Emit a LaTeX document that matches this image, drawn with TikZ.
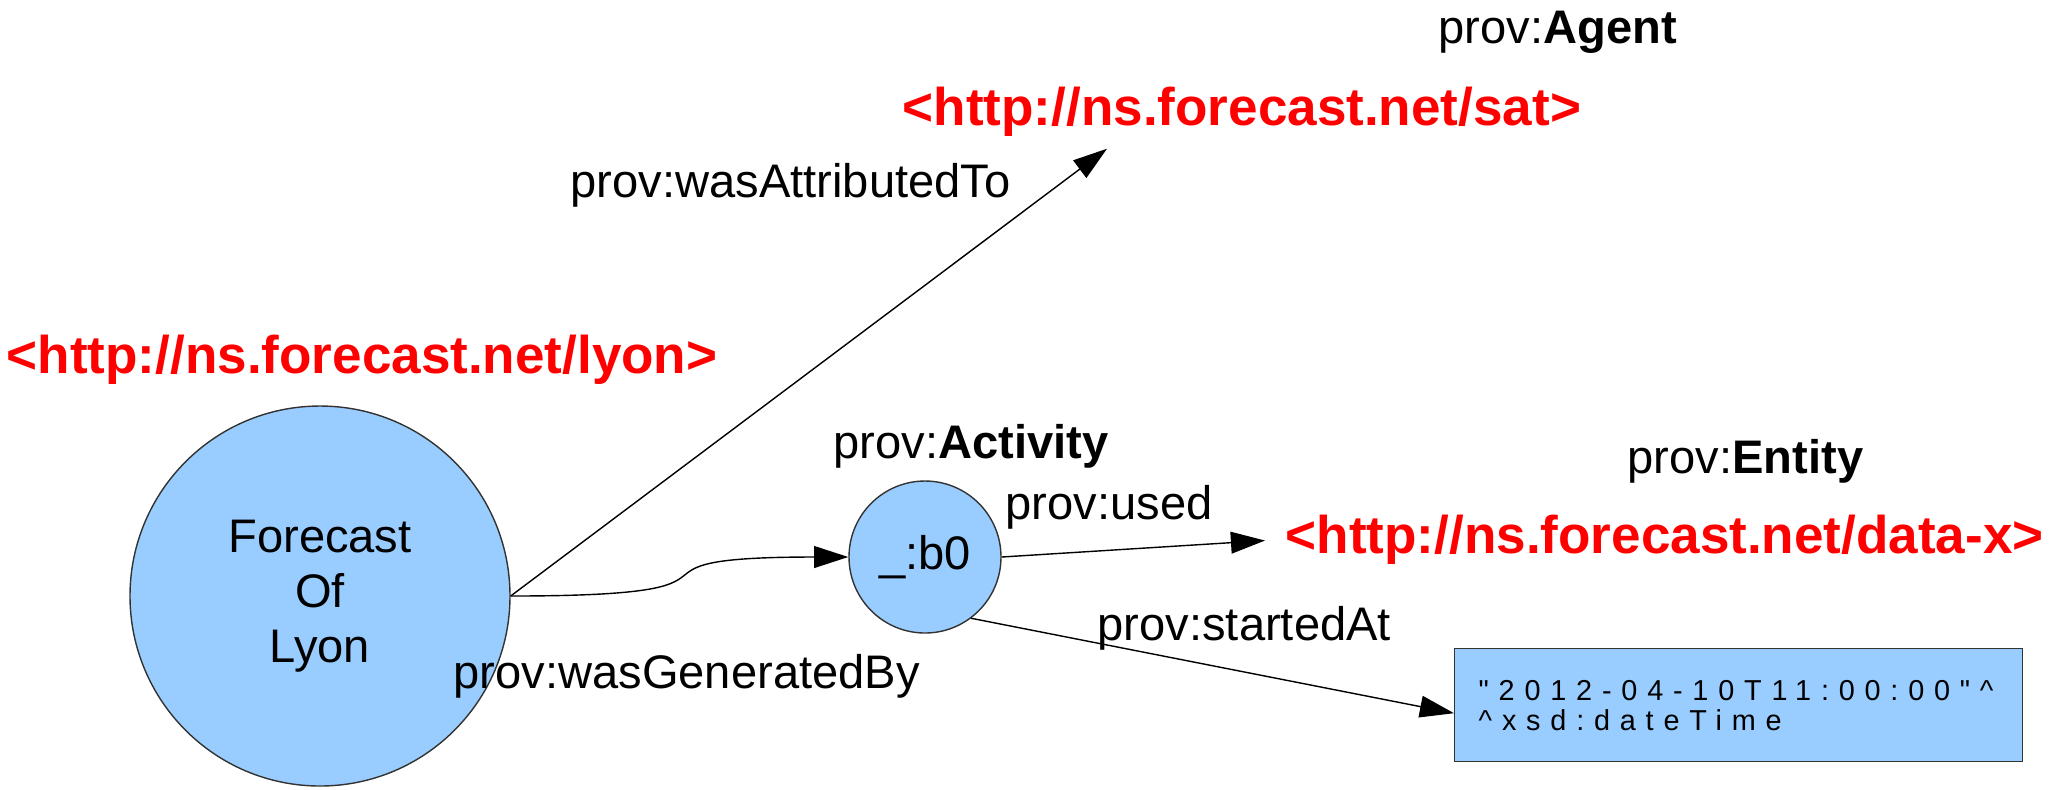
\documentclass[tikz,border=0pt]{standalone}
\usepackage{fontspec}
\setmainfont{Liberation Sans}
\newfontfamily\spacedfont[LetterSpace=34]{Liberation Sans}
\usetikzlibrary{arrows.meta,calc}
\definecolor{nodeblue}{HTML}{99CCFF}
\definecolor{urired}{HTML}{FF0000}
\begin{document}
\begin{tikzpicture}[x=0.1mm,y=-0.1mm,line width=0.4pt,
		lbl/.style={anchor=base west,inner sep=0pt,font=\fontsize{13.4}{15.6}\selectfont},
		uri/.style={anchor=base west,inner sep=0pt,text=urired,font=\fontsize{15.1}{18}\selectfont\bfseries},
		res/.style={circle,draw=black!80,fill=nodeblue,inner sep=0pt,align=center,font=\fontsize{13.4}{15.6}\selectfont},
		arr/.style={-{Triangle[length=9.7pt,width=6.2pt]}}]
			\useasboundingbox (0,0) rectangle (2067,789);
			\node[res,minimum size=38mm] (lyon) at (320,596) {Forecast\\Of\\Lyon};
			\node[res,minimum size=15.2mm] (b0) at (925,557) {\_:b0};
			\node[draw=black!80,fill=nodeblue,anchor=north west,minimum width=56.8mm,minimum height=11.3mm,text width=52mm,inner xsep=2.4mm,align=left,font=\spacedfont\fontsize{8.2}{8.5}\selectfont] (date) at (1454,648) {"2012-04-10T11:00:00"\textasciicircum\\\textasciicircum xsd:dateTime};
			\node[uri] (lyonuri) at (6,373) {<http://ns.forecast.net/lyon>};
			\node[uri] (sat) at (902,125) {<http://ns.forecast.net/sat>};
			\node[uri] (data) at (1285,553) {<http://ns.forecast.net/data-x>};
			\node[lbl] (agent) at (1438,43) {prov:\textbf{Agent}};
			\node[lbl] (activity) at (833,458) {prov:\textbf{Activity}};
			\node[lbl] (entity) at (1627,473) {prov:\textbf{Entity}};
			\node[lbl] (attributed) at (570,197) {prov:wasAttributedTo};
			\node[lbl] (used) at (1005,519) {prov:used};
			\node[lbl] (started) at (1097,640) {prov:startedAt};
			\node[lbl] (generated) at (453,688) {prov:wasGeneratedBy};
			\draw[arr] (lyon.east) -- ($(sat.south west)+(205,12)$);
			\draw[arr] (lyon.east) .. controls +(280,0) and +(-260,0) .. (b0.west);
			\draw[arr,shorten >=5.7pt] (b0.east) -- (data.west);
			\draw[arr] (b0.-53) -- ($(date.west)+(0,8)$);
		\end{tikzpicture}
\end{document}
